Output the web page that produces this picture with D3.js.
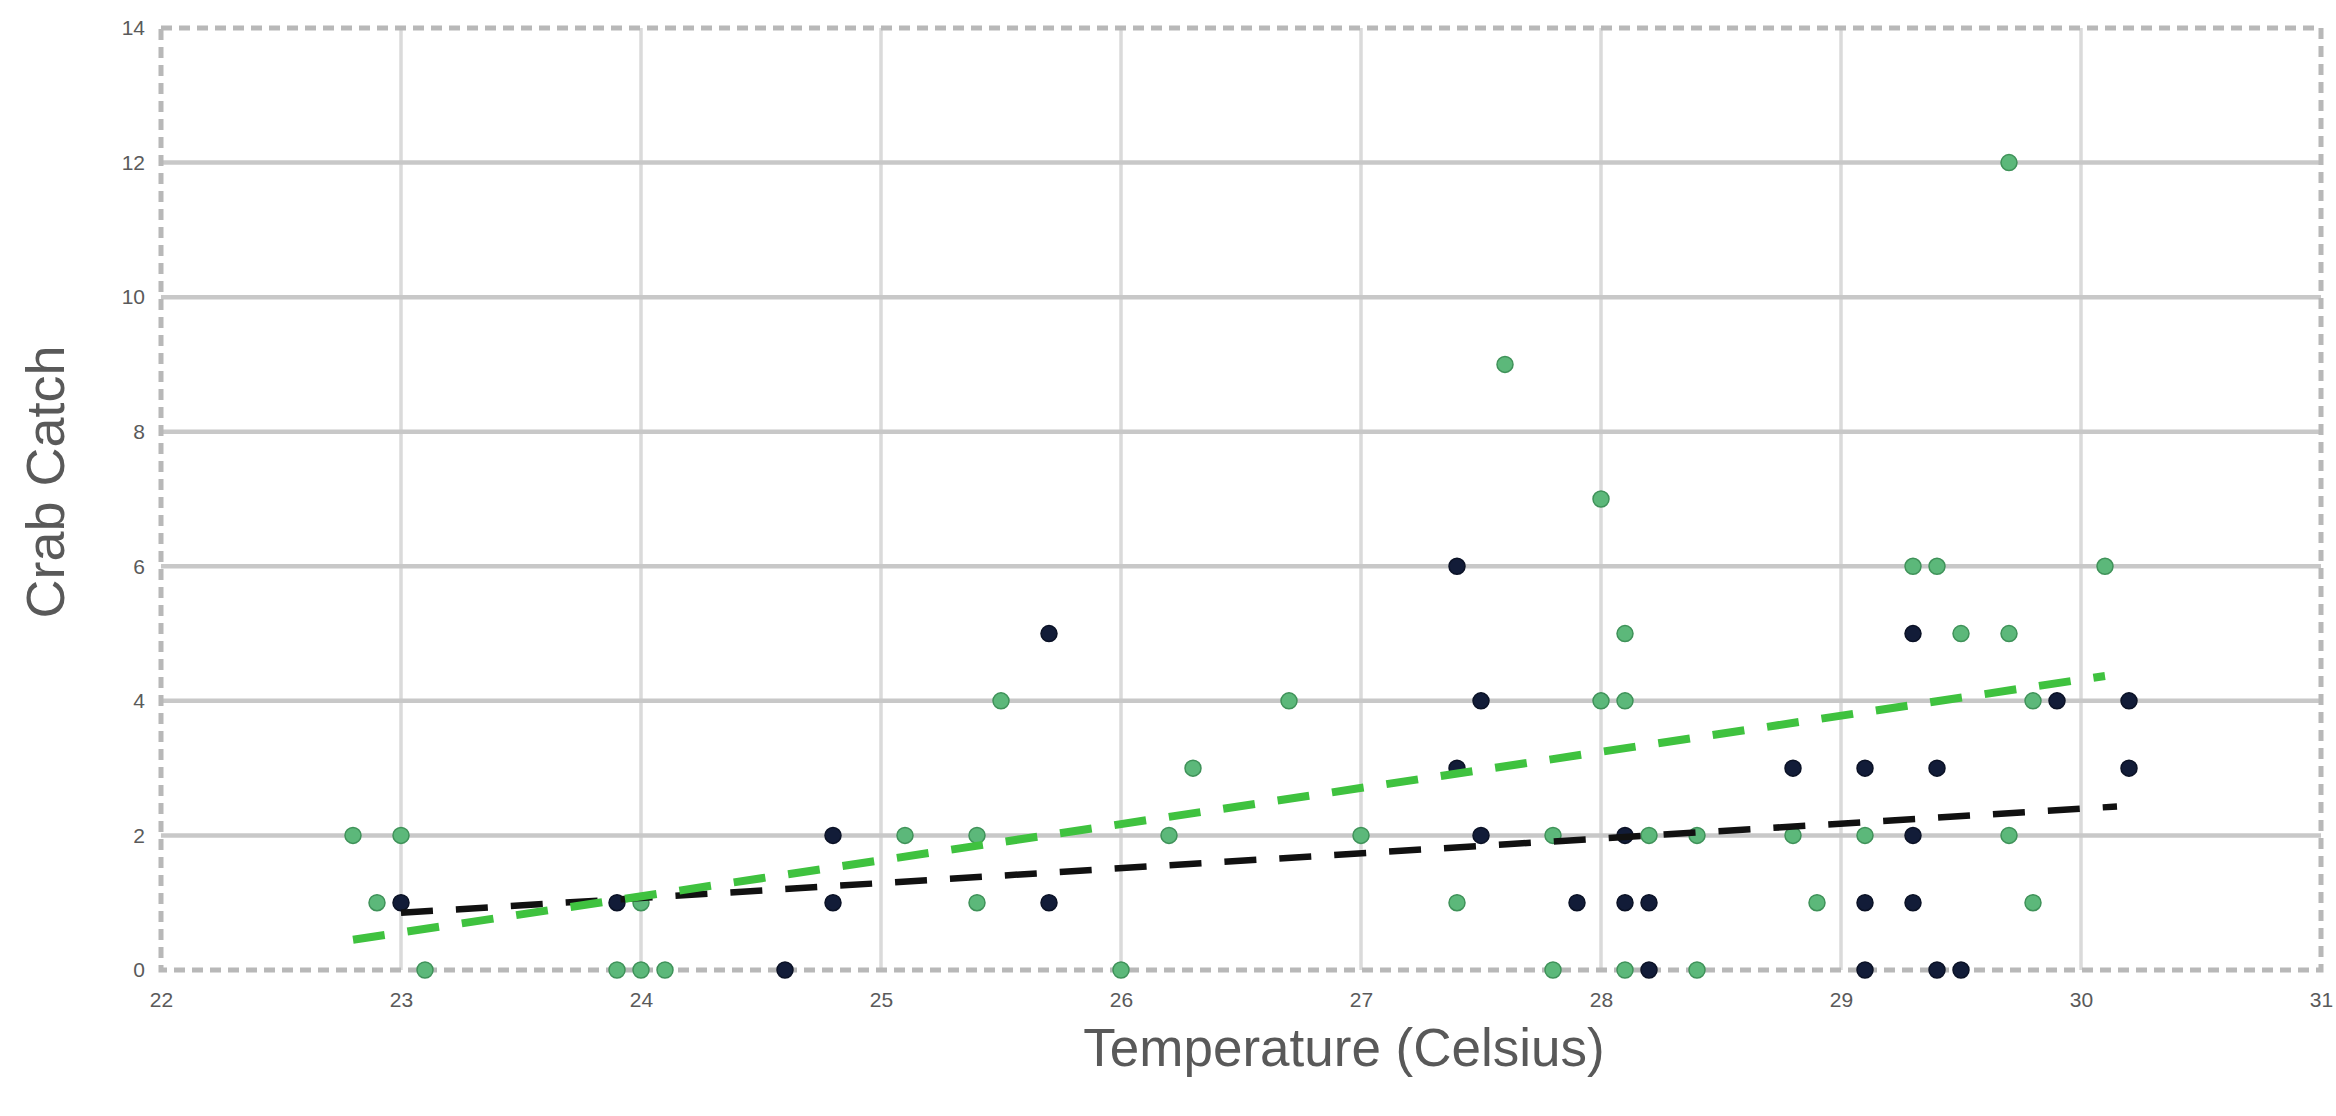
<!DOCTYPE html>
<html>
<head>
<meta charset="utf-8">
<script src="https://cdn.jsdelivr.net/npm/d3@7"></script>
<style>
  body { margin: 0; background: #fff; }
  svg { display: block; font-family: "Liberation Sans", Arial, sans-serif; }
</style>
</head>
<body>
<svg width="2336" height="1116"></svg>
<script>
// dark (navy) series
var navyTemp  = [23.0, 23.9, 24.6, 24.8, 24.8, 25.7, 25.7, 27.4, 27.4, 27.5, 27.5, 27.9, 28.1, 28.1, 28.2,
                 28.2, 28.8, 29.1, 29.1, 29.1, 29.3, 29.3, 29.3, 29.4, 29.4, 29.5, 29.9, 30.2, 30.2];
var navyCatch = [1, 1, 0, 2, 1, 5, 1, 6, 3, 4, 2, 1, 2, 1, 1,
                 0, 3, 3, 1, 0, 5, 2, 1, 3, 0, 0, 4, 4, 3];

// green series
var greenTemp  = [22.8, 22.9, 23.0, 23.1, 23.9, 24.0, 24.0, 24.1, 25.1, 25.4, 25.4, 25.5, 26.0, 26.2, 26.3,
                  26.7, 27.0, 27.4, 27.6, 27.8, 27.8, 28.0, 28.0, 28.1, 28.1, 28.1, 28.2, 28.4, 28.4, 28.8,
                  28.9, 29.1, 29.3, 29.4, 29.5, 29.7, 29.7, 29.7, 29.8, 29.8, 30.1];
var greenCatch = [2, 1, 2, 0, 0, 1, 0, 0, 2, 2, 1, 4, 0, 2, 3,
                  4, 2, 1, 9, 2, 0, 7, 4, 5, 4, 0, 2, 2, 0, 2,
                  1, 2, 6, 6, 5, 12, 5, 2, 4, 1, 6];

// trend lines, end points
var navyTrend  = [[23.0, 0.85], [30.15, 2.43]];
var greenTrend = [[22.8, 0.45], [30.1, 4.37]];

var xTicks = [22, 23, 24, 25, 26, 27, 28, 29, 30, 31];
var yTicks = [0, 2, 4, 6, 8, 10, 12, 14];

var svg = d3.select("svg"),
    margin = {top: 28, right: 15, bottom: 146, left: 161},
    width = +svg.attr("width") - margin.left - margin.right,
    height = +svg.attr("height") - margin.top - margin.bottom;

var x = d3.scaleLinear().domain([22, 31]).range([0, width]);
var y = d3.scaleLinear().domain([0, 14]).range([height, 0]);

var g = svg.append("g").attr("transform", "translate(" + margin.left + "," + margin.top + ")");

// grid
g.append("g")
    .selectAll("line")
    .data(xTicks.slice(1, -1))
    .enter().append("line")
      .attr("x1", function(d) { return x(d); })
      .attr("x2", function(d) { return x(d); })
      .attr("y1", 0)
      .attr("y2", height)
      .attr("stroke", "#dadada")
      .attr("stroke-width", 3.5);

g.append("g")
    .selectAll("line")
    .data(yTicks.slice(1, -1))
    .enter().append("line")
      .attr("x1", 0)
      .attr("x2", width)
      .attr("y1", function(d) { return y(d); })
      .attr("y2", function(d) { return y(d); })
      .attr("stroke", "#c8c8c8")
      .attr("stroke-width", 4.5);

// dashed frame
g.append("rect")
    .attr("width", width)
    .attr("height", height)
    .attr("fill", "none")
    .attr("stroke", "#b8b8b8")
    .attr("stroke-width", 5)
    .attr("stroke-dasharray", "11,7");

// axes, labels only
var xAxis = g.append("g")
    .attr("transform", "translate(0," + height + ")")
    .call(d3.axisBottom(x).tickValues(xTicks).tickSize(0).tickPadding(22));
var yAxis = g.append("g")
    .call(d3.axisLeft(y).tickValues(yTicks).tickSize(0).tickPadding(16));

[xAxis, yAxis].forEach(function(a) {
  a.select(".domain").remove();
  a.selectAll("text")
      .attr("fill", "#5a5a5a")
      .style("font-size", "21px")
      .style("font-family", "Liberation Sans, Arial, sans-serif");
});

// points
function dots(temps, catches, fill, stroke) {
  g.append("g")
    .selectAll("circle")
    .data(temps.map(function(t, i) { return {t: t, c: catches[i]}; }))
    .enter().append("circle")
      .attr("cx", function(d) { return x(d.t); })
      .attr("cy", function(d) { return y(d.c); })
      .attr("r", 8)
      .attr("fill", fill)
      .attr("stroke", stroke)
      .attr("stroke-width", 1.5);
}
dots(navyTemp, navyCatch, "#121c38", "#0b1226");
dots(greenTemp, greenCatch, "#5cb87a", "#3f9259");

// trend lines on top
var line = d3.line()
    .x(function(d) { return x(d[0]); })
    .y(function(d) { return y(d[1]); });

g.append("path")
    .datum(navyTrend)
    .attr("d", line)
    .attr("fill", "none")
    .attr("stroke", "#111")
    .attr("stroke-width", 6.5)
    .attr("stroke-dasharray", "32,23");

g.append("path")
    .datum(greenTrend)
    .attr("d", line)
    .attr("fill", "none")
    .attr("stroke", "#3fc23f")
    .attr("stroke-width", 8)
    .attr("stroke-dasharray", "32,23");

// axis titles
svg.append("text")
    .attr("x", 1344)
    .attr("y", 1066)
    .attr("text-anchor", "middle")
    .attr("fill", "#595959")
    .style("font-size", "53px")
    .text("Temperature (Celsius)");

svg.append("text")
    .attr("transform", "translate(64," + 482 + ") rotate(-90)")
    .attr("text-anchor", "middle")
    .attr("fill", "#595959")
    .style("font-size", "54px")
    .text("Crab Catch");
</script>
</body>
</html>
